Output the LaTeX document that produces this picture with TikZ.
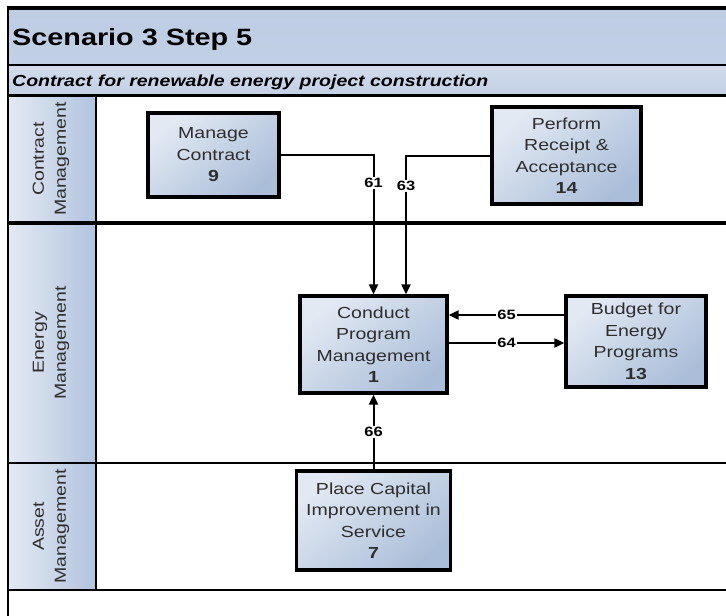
\documentclass[tikz,border=0pt]{standalone}
\usepackage{fontspec}
\setmainfont{Liberation Sans}
\newfontfamily\bx[FakeStretch=1.22]{Liberation Sans}
\usetikzlibrary{arrows.meta,calc}
\definecolor{txt}{HTML}{2E2E2E}
\definecolor{boxA}{HTML}{E2E9F3}
\definecolor{boxB}{HTML}{ABBED9}
\definecolor{ttlA}{HTML}{BECDE3}
\definecolor{ttlM}{HTML}{D2DCEC}
\definecolor{ttlB}{HTML}{C2D0E6}
\definecolor{hdA}{HTML}{E4EAF4}
\definecolor{hdB}{HTML}{B2C3DD}
\begin{document}
\begin{tikzpicture}[x=1pt,y=-1pt,
  proc/.style={draw=black, line width=3.3pt, top color=boxA, bottom color=boxB, shading angle=40,
    align=center, font=\bx\fontsize{16}{21.5}\selectfont, text=txt, inner sep=0pt},
  flow/.style={line width=2pt, -{Triangle[length=10pt,width=9pt]}},
  lbl/.style={fill=white, inner sep=1.5pt, font=\bx\bfseries\fontsize{13.5}{13.5}\selectfont, text=black},
  lanetxt/.style={rotate=90, align=center, font=\bx\fontsize{16}{22}\selectfont, text=txt, inner sep=0pt},
  thin/.style={line width=2pt},
  thick/.style={line width=3.5pt}
]
\useasboundingbox (0,0) rectangle (726,616);
\fill[white] (0,0) rectangle (726,616);
% bands
\shade[top color=ttlA, middle color=ttlM, bottom color=ttlB] (8,8) rectangle (726,65);
\shade[top color=ttlM, bottom color=ttlB] (8,65) rectangle (726,95);
\shade[left color=hdA, right color=hdB] (8,95) rectangle (96,590);
% frame lines
\draw[thick] (6.5,8) -- (726,8);
\draw[line width=2.5pt] (8,8) -- (8,616);
\draw[thin] (8,65) -- (726,65);
\draw[line width=3pt] (8,95) -- (726,95);
\draw[thick] (8,223) -- (726,223);
\draw[thin] (8,463) -- (726,463);
\draw[line width=2.5pt] (8,590) -- (726,590);
\draw[thin] (96,95) -- (96,590);
% title texts
\node[anchor=base west, inner sep=0pt, font=\bx\bfseries\fontsize{23.6}{26}\selectfont] (title) at (12,45.5) {Scenario 3 Step 5};
\node[anchor=base west, inner sep=0pt, font=\bx\bfseries\itshape\fontsize{16}{18}\selectfont] (sub) at (12,86.5) {Contract for renewable energy project construction};
% lane labels
\node[lanetxt] (l1) at (51,159) {Contract\\Management};
\node[lanetxt] (l2) at (51,343) {Energy\\Management};
\node[lanetxt] (l3) at (51,526.5) {Asset\\Management};
% processes
\node[proc, minimum width=131pt, minimum height=84pt] (mc) at (213.5,155) {Manage\\Contract\\\textbf{9}};
\node[proc, minimum width=149pt, minimum height=97pt] (pr) at (566.5,155.5) {Perform\\Receipt \&\\Acceptance\\\textbf{14}};
\node[proc, minimum width=147pt, minimum height=97pt] (cp) at (373.5,344.5) {Conduct\\Program\\Management\\\textbf{1}};
\node[proc, minimum width=140pt, minimum height=91pt] (bud) at (636,341.5) {Budget for\\Energy\\Programs\\\textbf{13}};
\node[proc, minimum width=154pt, minimum height=99pt] (pc) at (373.5,520.5) {Place Capital\\Improvement in\\Service\\\textbf{7}};
% connectors
\draw[flow] (mc.east) -| (cp.north) node[lbl, pos=0.6] {61};
\draw[flow] (pr.west) -| ($(cp.north)+(32.5,0)$) node[lbl, pos=0.61] {63};
\coordinate (a65) at ($(bud.west)+(0,-26.5)$);
\draw[flow] (a65) -- (cp.east |- a65) node[lbl, midway] {65};
\coordinate (a64) at ($(cp.east)+(0,-1.5)$);
\draw[flow] (a64) -- (bud.west |- a64) node[lbl, midway] {64};
\draw[flow] (pc.north) -- (cp.south) node[lbl, midway] {66};
\end{tikzpicture}
\end{document}
